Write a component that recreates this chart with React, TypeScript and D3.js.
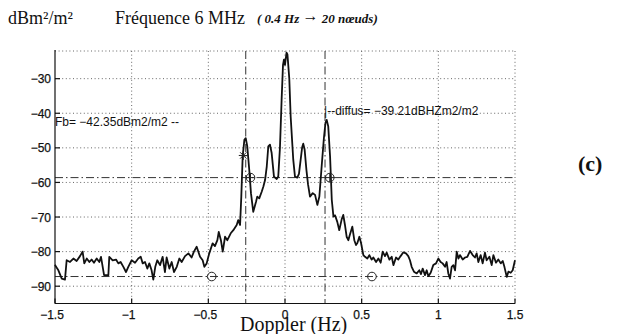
import React, { useEffect } from "react";
import * as d3 from "d3";

// ---- data (Doppler Hz, power dBm²/m²) ----
const noiseLeft: [number, number][] = [
  [-1.5, -83.8], [-1.493, -84.4], [-1.478, -85.4], [-1.456, -87.8], [-1.435, -88.1], [-1.424, -82.5],
  [-1.402, -83.0], [-1.38, -82.0], [-1.359, -82.7], [-1.337, -81.3], [-1.32, -80.0], [-1.309, -83.4],
  [-1.293, -82.0], [-1.276, -83.0], [-1.261, -82.3], [-1.246, -83.2], [-1.228, -82.0], [-1.211, -83.0],
  [-1.2, -81.5], [-1.189, -84.4], [-1.18, -86.8], [-1.152, -86.8], [-1.146, -81.5], [-1.124, -82.5],
  [-1.102, -82.3], [-1.087, -83.4], [-1.072, -83.0], [-1.054, -84.4], [-1.037, -85.9], [-1.022, -84.4],
  [-1.0, -82.5], [-0.978, -83.2], [-0.957, -82.0], [-0.941, -81.5], [-0.928, -83.4], [-0.913, -83.0],
  [-0.898, -84.9], [-0.885, -83.4], [-0.87, -85.4], [-0.859, -88.1], [-0.846, -84.4], [-0.833, -82.5],
  [-0.815, -83.9], [-0.798, -81.5], [-0.783, -85.9], [-0.772, -81.7], [-0.754, -84.9], [-0.739, -83.0],
  [-0.724, -85.9], [-0.706, -84.4], [-0.689, -82.0], [-0.674, -83.0], [-0.652, -81.3], [-0.63, -80.5],
  [-0.609, -81.7], [-0.594, -80.0], [-0.576, -78.6], [-0.554, -81.5], [-0.537, -82.5], [-0.526, -84.4],
  [-0.511, -83.4], [-0.494, -80.5], [-0.472, -77.6], [-0.457, -78.4], [-0.441, -76.7], [-0.432, -74.3],
  [-0.418, -76.7],
];

const peaks: [number, number][] = [
  [-0.406, -80.0], [-0.391, -75.7], [-0.376, -76.7], [-0.354, -74.7], [-0.337, -73.8], [-0.315, -72.3],
  [-0.305, -70.9], [-0.293, -72.3], [-0.285, -64.1], [-0.276, -52.5], [-0.265, -47.7], [-0.256, -47.2],
  [-0.246, -49.6], [-0.233, -56.4], [-0.222, -63.1], [-0.207, -68.5], [-0.189, -65.6], [-0.181, -64.1],
  [-0.168, -64.6], [-0.152, -62.7], [-0.141, -61.2], [-0.13, -59.3], [-0.119, -55.4], [-0.109, -49.6],
  [-0.098, -49.1], [-0.087, -51.5], [-0.072, -58.3], [-0.054, -59.0], [-0.044, -58.3], [-0.033, -50.0],
  [-0.022, -36.0], [-0.013, -26.0], [-0.007, -24.5], [0.0, -26.0], [0.01, -22.5], [0.016, -23.0],
  [0.028, -30.0], [0.037, -41.0], [0.054, -53.5], [0.065, -58.3], [0.08, -58.6], [0.091, -57.5],
  [0.102, -53.5], [0.112, -49.8], [0.119, -48.8], [0.128, -50.5], [0.14, -56.5], [0.15, -60.5],
  [0.163, -64.1], [0.181, -63.1], [0.196, -63.6], [0.211, -66.5], [0.224, -64.1], [0.239, -55.4],
  [0.254, -47.0], [0.264, -42.8], [0.272, -41.9], [0.282, -43.8], [0.294, -52.5], [0.305, -65.0],
  [0.316, -69.9], [0.326, -69.5], [0.341, -71.4], [0.354, -73.8], [0.37, -70.6], [0.38, -69.4],
  [0.391, -72.3], [0.402, -75.7], [0.413, -76.7], [0.424, -75.0], [0.439, -72.8], [0.452, -76.7],
  [0.463, -78.1], [0.472, -77.5], [0.485, -75.7], [0.496, -77.5], [0.511, -81.0],
];

const noiseRight: [number, number][] = [
  [0.522, -81.5], [0.537, -82.0], [0.55, -81.0], [0.565, -82.3], [0.576, -81.7], [0.594, -83.0],
  [0.609, -82.0], [0.624, -83.2], [0.637, -80.0], [0.652, -81.3], [0.663, -80.3], [0.681, -82.3],
  [0.696, -81.5], [0.707, -83.9], [0.724, -81.7], [0.739, -82.3], [0.754, -81.3], [0.772, -80.2],
  [0.789, -80.5], [0.804, -81.3], [0.815, -82.5], [0.826, -84.4], [0.841, -85.8], [0.859, -86.3],
  [0.876, -85.4], [0.887, -86.5], [0.898, -84.9], [0.913, -86.8], [0.924, -85.4], [0.935, -87.1],
  [0.95, -86.1], [0.967, -83.9], [0.985, -83.4], [1.0, -82.0], [1.015, -83.0], [1.028, -83.4],
  [1.044, -84.4], [1.054, -83.0], [1.065, -86.3], [1.076, -87.8], [1.087, -84.4], [1.098, -83.9],
  [1.109, -85.4], [1.12, -80.0], [1.131, -82.0], [1.141, -81.0], [1.159, -82.3], [1.174, -81.7],
  [1.189, -81.5], [1.207, -79.8], [1.224, -81.0], [1.239, -81.7], [1.25, -80.5], [1.261, -83.0],
  [1.276, -81.0], [1.289, -83.4], [1.304, -80.3], [1.315, -82.5], [1.333, -81.5], [1.348, -83.9],
  [1.359, -81.0], [1.376, -83.2], [1.391, -82.3], [1.407, -83.4], [1.42, -82.7], [1.431, -84.4],
  [1.446, -87.3], [1.457, -85.8], [1.472, -86.1], [1.485, -85.4], [1.5, -82.5],
];

const xTicks = [-1.5, -1, -0.5, 0, 0.5, 1, 1.5];
const xTickLabels = ["\u22121.5", "\u22121", "\u22120.5", "0", "0.5", "1", "1.5"];
const yTicks = [-90, -80, -70, -60, -50, -40, -30];
const yTickLabels = ["\u221290", "\u221280", "\u221270", "\u221260", "\u221250", "\u221240", "\u221230"];

// reference levels / markers
const hLevels = [-58.6, -87.2];
const vLevels = [-0.256, 0.261];
const starPoint: [number, number] = [-0.272, -52.2];
const plusCircles: [number, number][] = [[-0.225, -58.6], [0.292, -58.6]];
const openCircles: [number, number][] = [[-0.478, -87.2], [0.567, -87.2]];

const fbLabel = "Fb= \u221242.35dBm2/m2 --";
const diffusLabel = "|--diffus= \u221239.21dBHZm2/m2";

export default function App() {
  useEffect(() => {
    document.body.style.margin = "0";
  }, []);

  const x = d3.scaleLinear().domain([-1.5, 1.5]).range([55, 515]);
  const y = d3.scaleLinear().domain([-95, -22]).range([303.5, 51]);
  const series = [...noiseLeft, ...peaks, ...noiseRight];
  const line = d3.line<[number, number]>().x((d) => x(d[0])).y((d) => y(d[1]));

  const [x0, x1] = x.range();
  const [yb, yt] = y.range();
  const dot = "1,2.6";
  const dashDot = "8,3,1.5,3";
  const sans = "'Liberation Sans', Arial, Helvetica, sans-serif";
  const serif = "'Liberation Serif', 'Times New Roman', serif";

  return (
    <svg width={621} height={334} style={{ position: "absolute", left: 0, top: 0, background: "#fff" }}>
      <rect x={0} y={0} width={621} height={334} fill="#fff" />
      {/* title */}
      <text x={8} y={24} fontFamily={serif} fontSize={18} fill="#111">
        dBm²/m²
      </text>
      <text x={115} y={24} fontFamily={serif} fontSize={18} fill="#111">
        Fréquence 6 MHz
      </text>
      <text x={257} y={23} fontFamily={serif} fontSize={13} fontStyle="italic" fontWeight="bold" fill="#111">
        ( 0.4 Hz <tspan fontSize={16} dy={-2}>→</tspan><tspan dy={2}> 20 nœuds)</tspan>
      </text>

      {/* grid */}
      <g stroke="#666" strokeWidth={1} strokeDasharray={dot}>
        {xTicks.slice(1).map((t) => (
          <line key={"gx" + t} x1={x(t)} x2={x(t)} y1={yt} y2={yb} />
        ))}
        {yTicks.map((t) => (
          <line key={"gy" + t} x1={x0} x2={x1} y1={y(t)} y2={y(t)} />
        ))}
        <line x1={x0} x2={x1} y1={yt} y2={yt} />
      </g>

      {/* reference dash-dot lines */}
      <g stroke="#333" strokeWidth={1} strokeDasharray={dashDot}>
        {hLevels.map((v) => (
          <line key={"h" + v} x1={x0} x2={x1} y1={y(v)} y2={y(v)} />
        ))}
        {vLevels.map((v) => (
          <line key={"v" + v} x1={x(v)} x2={x(v)} y1={yt} y2={yb} />
        ))}
      </g>

      {/* axes */}
      <g stroke="#111" strokeWidth={1.2}>
        <line x1={x0} x2={x0} y1={yt - 1} y2={yb} />
        <line x1={x0} x2={x1} y1={yb} y2={yb} />
        {xTicks.map((t) => (
          <line key={"tx" + t} x1={x(t)} x2={x(t)} y1={yb} y2={yb - 5} />
        ))}
        {yTicks.map((t) => (
          <line key={"ty" + t} x1={x0} x2={x0 + 5} y1={y(t)} y2={y(t)} />
        ))}
      </g>

      {/* tick labels */}
      <g fontFamily={sans} fontSize={12} fill="#111" stroke="#111" strokeWidth={0.25}>
        {xTicks.map((t, i) => (
          <text key={"lx" + t} x={x(t) - (t < 0 ? 3 : 0)} y={yb + 15} textAnchor="middle">
            {xTickLabels[i]}
          </text>
        ))}
        {yTicks.map((t, i) => (
          <text key={"ly" + t} x={x0 - 4} y={y(t) + 4.5} textAnchor="end">
            {yTickLabels[i]}
          </text>
        ))}
      </g>

      {/* spectrum */}
      <path d={line(series) || ""} fill="none" stroke="#111" strokeWidth={1.8} strokeLinejoin="round" />

      {/* markers */}
      <g stroke="#222" strokeWidth={1} fill="none">
        {(() => {
          const cx = x(starPoint[0]);
          const cy = y(starPoint[1]);
          const r = 4.5;
          const k = r * 0.7;
          return (
            <g>
              <line x1={cx - r} x2={cx + r} y1={cy} y2={cy} />
              <line x1={cx} x2={cx} y1={cy - r} y2={cy + r} />
              <line x1={cx - k} x2={cx + k} y1={cy - k} y2={cy + k} />
              <line x1={cx - k} x2={cx + k} y1={cy + k} y2={cy - k} />
            </g>
          );
        })()}
        {plusCircles.map((p, i) => {
          const cx = x(p[0]);
          const cy = y(p[1]);
          return (
            <g key={"pc" + i}>
              <circle cx={cx} cy={cy} r={4.3} />
              <line x1={cx - 4.3} x2={cx + 4.3} y1={cy} y2={cy} />
              <line x1={cx} x2={cx} y1={cy - 4.3} y2={cy + 4.3} />
            </g>
          );
        })}
        {openCircles.map((p, i) => (
          <circle key={"oc" + i} cx={x(p[0])} cy={y(p[1])} r={4.3} />
        ))}
      </g>

      {/* annotations */}
      <text x={x0} y={126} fontFamily={sans} fontSize={12} fill="#111">
        {fbLabel}
      </text>
      <text x={x(vLevels[1]) - 1} y={115} fontFamily={sans} fontSize={12} fill="#111">
        {diffusLabel}
      </text>

      {/* axis label */}
      <text x={240} y={331} fontFamily={serif} fontSize={20} fill="#111">
        Doppler (Hz)
      </text>

      {/* panel label */}
      <text x={578} y={171} fontFamily={serif} fontSize={22} fontWeight="bold" fill="#111">
        (c)
      </text>
    </svg>
  );
}
